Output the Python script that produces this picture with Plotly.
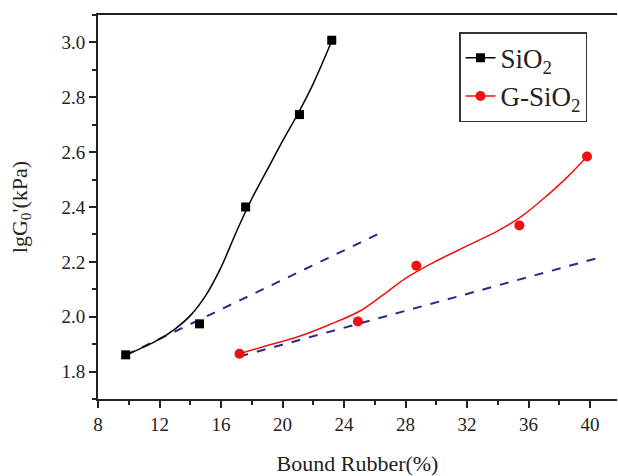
import plotly.graph_objects as go

# Measured data points
sio2_x = [9.8, 14.6, 17.6, 21.1, 23.2]
sio2_y = [1.861, 1.974, 2.400, 2.737, 3.008]
gsio2_x = [17.2, 24.9, 28.7, 35.4, 39.8]
gsio2_y = [1.865, 1.983, 2.186, 2.333, 2.584]

# Smoothed curves
sio2_fit_x = [9.8, 11, 12, 13, 14, 15, 16, 17, 18, 19, 20, 21, 22, 23.2]
sio2_fit_y = [1.86, 1.89, 1.918, 1.955, 2.004, 2.077, 2.18, 2.31, 2.43, 2.535, 2.64, 2.74, 2.85, 3.005]
gsio2_fit_x = [17.2, 19, 21, 23, 25, 26.5, 28, 30, 32, 34, 35.4, 37, 38.5, 39.8]
gsio2_fit_y = [1.865, 1.895, 1.927, 1.97, 2.02, 2.078, 2.14, 2.203, 2.258, 2.313, 2.36, 2.432, 2.508, 2.584]

# Dashed tangent lines
tan1_x = [9.8, 26.5]
tan1_y = [1.86, 2.309]
tan2_x = [17.2, 40.75]
tan2_y = [1.855, 2.218]

FONT = "Liberation Serif"
RED = "#f01010"
NAVY = "#2a2a88"

fig = go.Figure()
fig.add_trace(go.Scatter(x=tan1_x, y=tan1_y, mode="lines", showlegend=False,
                         line=dict(color=NAVY, width=2, dash="dash")))
fig.add_trace(go.Scatter(x=tan2_x, y=tan2_y, mode="lines", showlegend=False,
                         line=dict(color=NAVY, width=2, dash="dash")))
fig.add_trace(go.Scatter(x=sio2_fit_x, y=sio2_fit_y, mode="lines", showlegend=False,
                         line=dict(color="black", width=1.5, shape="spline", smoothing=1)))
fig.add_trace(go.Scatter(x=gsio2_fit_x, y=gsio2_fit_y, mode="lines", showlegend=False,
                         line=dict(color=RED, width=1.5, shape="spline", smoothing=1)))
fig.add_trace(go.Scatter(x=sio2_x, y=sio2_y, mode="markers", showlegend=False,
                         marker=dict(symbol="square", size=9, color="black")))
fig.add_trace(go.Scatter(x=gsio2_x, y=gsio2_y, mode="markers", showlegend=False,
                         marker=dict(symbol="circle", size=10, color=RED)))
# legend entries
fig.add_trace(go.Scatter(x=[None], y=[None], mode="lines+markers", name="SiO<sub>2</sub>",
                         marker=dict(symbol="square", size=9, color="black"),
                         line=dict(color="black", width=1.5)))
fig.add_trace(go.Scatter(x=[None], y=[None], mode="lines+markers", name="G-SiO<sub>2</sub>",
                         marker=dict(symbol="circle", size=10, color=RED),
                         line=dict(color=RED, width=1.5)))

axis_common = dict(showgrid=False, zeroline=False, showline=True, linecolor="#222",
                   linewidth=2, ticks="outside", ticklen=7, tickwidth=1.5, tickcolor="#222",
                   automargin=False,
                   tickfont=dict(family=FONT, size=19, color="#222"))

fig.update_xaxes(range=[8, 41.75], dtick=4, tick0=0, mirror=True,
                 minor=dict(dtick=2, ticks="outside", ticklen=4, tickcolor="#222"),
                 title=dict(text="Bound Rubber(%)", font=dict(family=FONT, size=22, color="#222"),
                            standoff=22),
                 **axis_common)
fig.update_yaxes(range=[1.7, 3.1], dtick=0.2, tick0=0, tickformat=".1f",
                 minor=dict(dtick=0.1, ticks="outside", ticklen=4, tickcolor="#222"),
                 title=dict(text="lgG<sub>0</sub>'(kPa)", font=dict(family=FONT, size=22, color="#222"),
                            standoff=28),
                 **axis_common)

fig.update_layout(
    width=618, height=476,
    margin=dict(l=98, r=1, t=15, b=77),
    plot_bgcolor="white", paper_bgcolor="white",
    legend=dict(x=0.6956, y=0.955, xanchor="left", yanchor="top",
                bordercolor="#333", borderwidth=1.5, bgcolor="white",
                font=dict(family=FONT, size=27, color="#222"),
                tracegroupgap=0),
)

fig.write_html("out.html", config={"displayModeBar": False},
               post_script="document.body.style.margin='0';")
